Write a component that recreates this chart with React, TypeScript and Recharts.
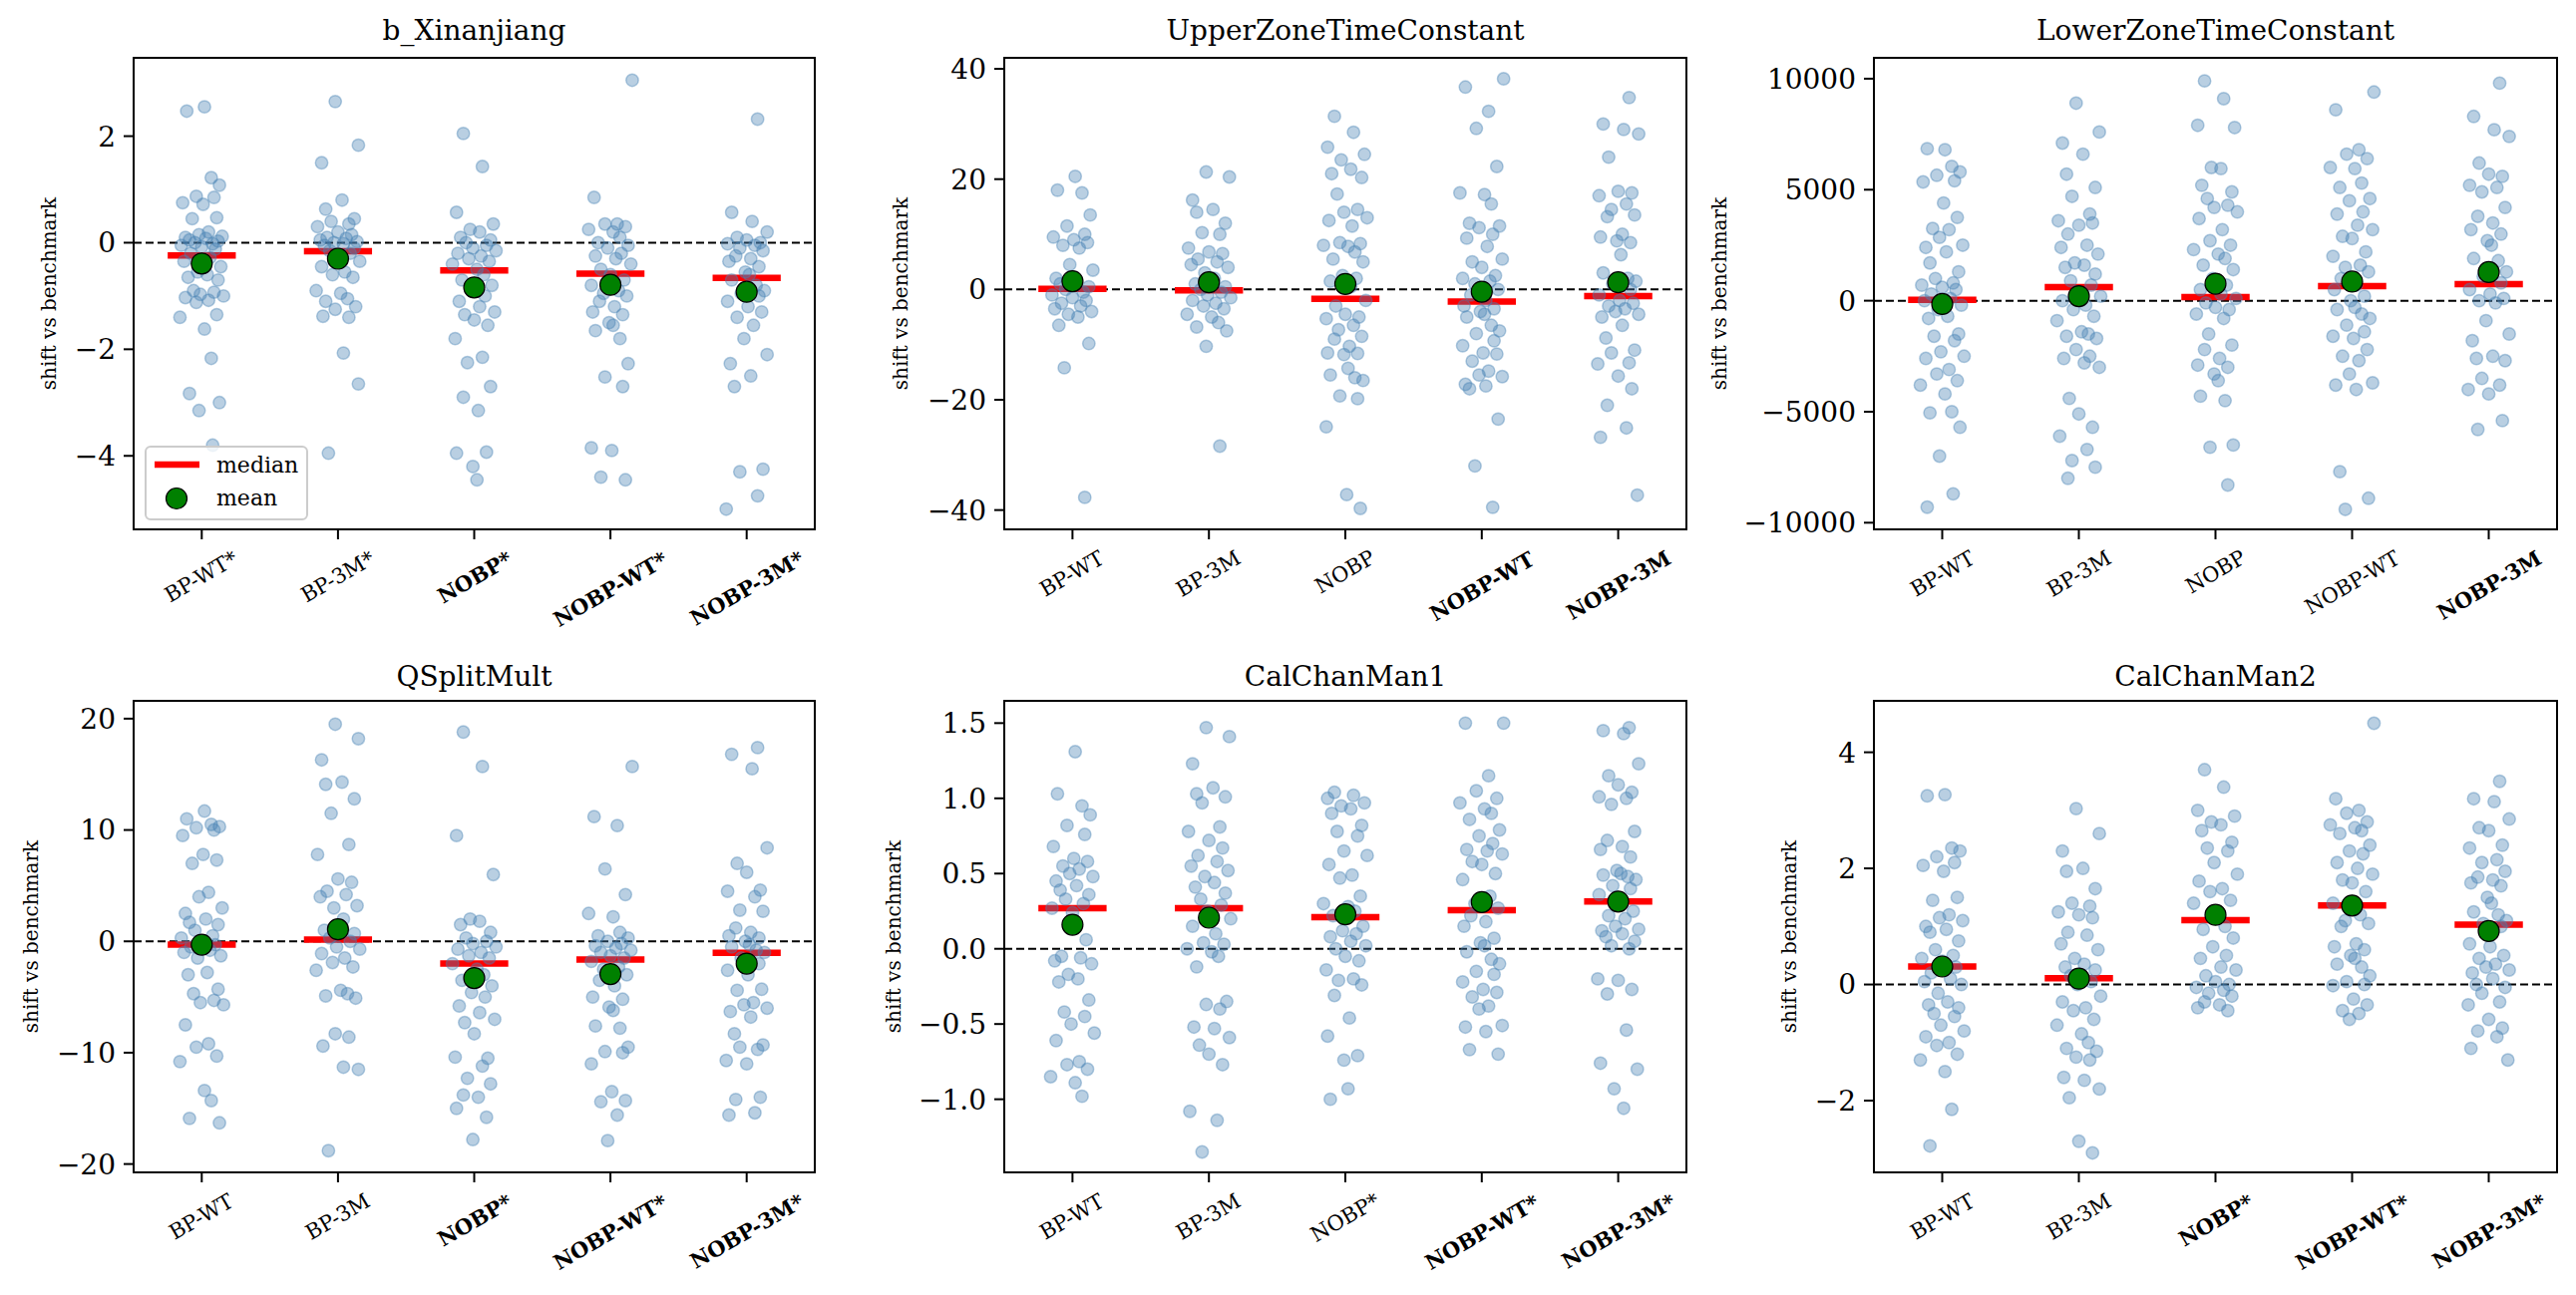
import React from 'react';
import { ScatterChart, Scatter, XAxis, YAxis, ReferenceLine, ReferenceArea } from 'recharts';

const FONT = '"DejaVu Serif", serif';

// ---------- shared horizontal jitter (category units) ----------
const JITTER = [0.02, -0.11, 0.07, 0.13, -0.04, 0.09, -0.14, 0.01, 0.11, -0.07, 0.05, -0.02, 0.15, -0.12, 0.03, -0.09, 0.12, -0.05, 0.08, -0.15, 0.0, 0.1, -0.08, 0.06, -0.13, 0.14, -0.03, 0.04, -0.1, 0.12, -0.06, 0.09, -0.01, 0.16, -0.12, 0.05, -0.04, 0.11, -0.16, 0.02, 0.07, -0.09, 0.13, -0.02, 0.08, -0.11, 0.04, 0.15, -0.07, 0.0, 0.1, -0.14, 0.06, -0.05, 0.12, -0.08, 0.03, -0.13, 0.09, -0.01];

// ---------- b_Xinanjiang ----------
const XIN_LABELS = ['BP-WT*', 'BP-3M*', 'NOBP*', 'NOBP-WT*', 'NOBP-3M*'];
const XIN_BOLD = [false, false, true, true, true];
const XIN_TICKS = [-4, -2, 0, 2];
const XIN_MEDIAN = [-0.24, -0.16, -0.52, -0.58, -0.66];
const XIN_MEAN = [-0.39, -0.3, -0.84, -0.79, -0.92];
const XIN_BPWT = [2.55, 2.47, 1.22, 1.08, 0.87, 0.85, 0.75, 0.72, 0.47, 0.45, 0.2, 0.15, 0.12, 0.1, 0.08, 0.05, 0.03, 0.0, -0.02, -0.05, -0.08, -0.12, -0.2, -0.28, -0.35, -0.45, -0.55, -0.6, -0.65, -0.7, -0.9, -0.93, -0.97, -1.0, -1.03, -1.08, -1.12, -1.35, -1.4, -1.62, -2.17, -2.83, -3.0, -3.15, -3.8];
const XIN_BP3M = [2.65, 1.83, 1.5, 0.8, 0.63, 0.45, 0.4, 0.35, 0.3, 0.2, 0.15, 0.1, 0.08, 0.05, 0.02, 0.0, -0.02, -0.05, -0.1, -0.15, -0.2, -0.3, -0.35, -0.45, -0.55, -0.6, -0.65, -0.9, -0.95, -1.05, -1.1, -1.2, -1.25, -1.4, -1.38, -2.07, -2.65, -3.95];
const XIN_NOBP = [2.05, 1.43, 0.57, 0.35, 0.25, 0.2, 0.1, 0.05, 0.0, -0.05, -0.1, -0.15, -0.2, -0.25, -0.3, -0.35, -0.4, -0.5, -0.6, -0.7, -0.8, -0.9, -1.0, -1.1, -1.2, -1.3, -1.35, -1.45, -1.55, -1.8, -2.15, -2.25, -2.7, -2.9, -3.15, -3.95, -3.93, -4.2, -4.45];
const XIN_NOBPWT = [3.05, 0.85, 0.35, 0.35, 0.3, 0.25, 0.2, 0.1, 0.0, -0.05, -0.1, -0.2, -0.25, -0.3, -0.4, -0.5, -0.6, -0.7, -0.8, -0.9, -0.95, -1.0, -1.1, -1.2, -1.3, -1.35, -1.5, -1.55, -1.65, -1.8, -2.27, -2.52, -2.7, -3.85, -3.9, -4.45, -4.4];
const XIN_NOBP3M = [2.32, 0.57, 0.4, 0.2, 0.1, 0.05, 0.0, -0.02, -0.05, -0.1, -0.15, -0.25, -0.3, -0.35, -0.45, -0.55, -0.6, -0.7, -0.8, -0.9, -0.95, -1.0, -1.1, -1.2, -1.3, -1.4, -1.55, -1.8, -2.1, -2.27, -2.5, -2.7, -4.25, -4.3, -4.75, -5.0];

// ---------- UpperZoneTimeConstant ----------
const UZ_LABELS = ['BP-WT', 'BP-3M', 'NOBP', 'NOBP-WT', 'NOBP-3M'];
const UZ_BOLD = [false, false, false, true, true];
const UZ_TICKS = [-40, -20, 0, 20, 40];
const UZ_MEDIAN = [0.1, -0.15, -1.7, -2.2, -1.2];
const UZ_MEAN = [1.5, 1.3, 1.0, -0.4, 1.3];
const UZ_BPWT = [20.5, 18.0, 17.5, 13.5, 11.5, 10.0, 9.5, 9.0, 8.5, 8.0, 7.5, 4.5, 3.5, 2.0, 1.5, 1.0, 0.5, 0.0, -0.5, -1.0, -1.5, -2.0, -2.5, -3.0, -3.5, -4.0, -4.5, -5.0, -6.5, -9.8, -14.2, -37.7];
const UZ_BP3M = [21.3, 20.4, 16.2, 14.5, 14.0, 12.0, 10.3, 10.0, 7.5, 6.8, 6.5, 5.5, 5.0, 4.5, 4.0, 3.0, 2.0, 1.0, 0.5, 0.0, -0.5, -1.0, -1.5, -2.0, -2.5, -3.0, -3.5, -4.5, -5.0, -6.0, -6.8, -7.5, -10.3, -28.4];
const UZ_NOBP = [31.4, 28.5, 25.8, 24.5, 23.5, 21.8, 21.0, 20.3, 17.3, 14.5, 14.0, 13.0, 12.5, 11.5, 8.5, 8.3, 8.0, 7.8, 6.8, 5.5, 5.0, 2.5, 2.0, 1.5, 0.5, -2.0, -3.0, -4.5, -5.0, -5.3, -6.5, -7.3, -8.5, -9.0, -10.3, -11.5, -11.6, -11.8, -14.3, -15.5, -16.0, -16.5, -19.3, -19.8, -24.9, -37.2, -39.7];
const UZ_NOBPWT = [38.2, 36.7, 32.3, 29.2, 22.3, 17.5, 17.2, 15.5, 12.0, 11.5, 11.2, 10.0, 9.3, 7.8, 5.5, 5.0, 4.0, 2.5, 2.0, 1.5, 1.0, 0.0, -1.0, -2.0, -3.0, -3.5, -4.0, -4.5, -5.0, -6.5, -7.5, -8.0, -9.3, -10.2, -11.5, -11.7, -13.0, -14.8, -15.5, -15.8, -17.2, -17.5, -18.0, -23.5, -32.0, -39.5];
const UZ_NOBP3M = [34.8, 30.0, 29.0, 28.2, 24.0, 17.8, 17.5, 17.0, 15.5, 14.5, 13.5, 13.2, 10.0, 9.5, 8.5, 8.8, 6.3, 3.0, 2.0, 1.5, 1.0, 0.0, -1.0, -2.0, -2.5, -3.0, -3.5, -4.0, -4.5, -5.0, -6.5, -8.8, -11.0, -11.5, -13.3, -13.5, -15.7, -18.0, -21.0, -25.1, -26.8, -37.3];

// ---------- LowerZoneTimeConstant ----------
const LZ_LABELS = ['BP-WT', 'BP-3M', 'NOBP', 'NOBP-WT', 'NOBP-3M'];
const LZ_BOLD = [false, false, false, false, true];
const LZ_TICKS = [-10000, -5000, 0, 5000, 10000];
const LZ_MEDIAN = [40, 617, 168, 654, 748];
const LZ_MEAN = [-150, 206, 766, 860, 1290];
const LZ_BPWT = [6800, 6850, 6050, 5800, 5650, 5400, 5350, 4400, 3750, 3250, 3200, 2850, 2500, 2400, 2200, 1700, 1300, 1000, 800, 700, 600, 500, 300, 100, 0, -200, -400, -700, -800, -1500, -1600, -1800, -2300, -2500, -2600, -3100, -3300, -3600, -3800, -4200, -5000, -5050, -5700, -7000, -8700, -9300];
const LZ_BP3M = [8900, 7600, 7100, 6600, 5700, 5100, 4700, 3900, 3600, 3400, 3500, 3000, 2500, 2400, 2100, 1700, 1600, 1500, 1200, 900, 700, 400, 200, 0, -200, -400, -700, -900, -1400, -1500, -1600, -1700, -2200, -2500, -2600, -2800, -3000, -4400, -5100, -5700, -6100, -6700, -7200, -7500, -8000];
const LZ_NOBP = [9900, 9100, 7900, 7800, 6000, 5950, 5200, 4900, 4600, 4300, 4200, 4000, 3700, 3200, 2700, 2500, 2300, 2100, 1900, 1600, 1400, 1000, 700, 500, 300, 100, -100, -300, -400, -600, -800, -1500, -2000, -2200, -2600, -2900, -3000, -3300, -3600, -4300, -4500, -6500, -6600, -8300];
const LZ_NOBPWT = [9400, 8600, 6800, 6600, 6400, 6000, 5950, 5300, 5100, 4600, 4500, 4000, 3900, 3400, 3200, 2900, 2800, 2200, 2000, 1600, 1500, 1300, 1000, 700, 500, 200, 0, -300, -400, -600, -800, -1100, -1400, -1600, -1700, -2200, -2500, -2700, -3300, -3700, -3800, -4000, -7700, -8900, -9400];
const LZ_NOBP3M = [9800, 8300, 7700, 7400, 6200, 5700, 5600, 5200, 5100, 4900, 4200, 3800, 3500, 3200, 3000, 2700, 2500, 1900, 1800, 1300, 1100, 800, 500, 300, 100, 0, -100, -900, -1500, -1800, -2500, -2600, -2700, -3500, -3800, -4000, -4200, -5400, -5800];

// ---------- QSplitMult ----------
const QS_LABELS = ['BP-WT', 'BP-3M', 'NOBP*', 'NOBP-WT*', 'NOBP-3M*'];
const QS_BOLD = [false, false, true, true, true];
const QS_TICKS = [-20, -10, 0, 10, 20];
const QS_MEDIAN = [-0.3, 0.15, -2.0, -1.64, -1.04];
const QS_MEAN = [-0.3, 1.08, -3.3, -2.94, -2.0];
const QS_BPWT = [11.7, 11.0, 10.5, 10.3, 10.2, 10.0, 9.5, 7.8, 7.3, 7.0, 4.4, 4.0, 3.0, 2.5, 2.0, 1.7, 1.5, 1.0, 0.5, 0.3, 0.0, -0.3, -0.5, -0.8, -1.0, -1.3, -1.5, -2.8, -3.0, -4.3, -4.7, -5.3, -5.5, -5.7, -7.5, -9.2, -9.5, -10.3, -10.8, -13.4, -14.3, -15.9, -16.3];
const QS_BP3M = [19.5, 18.2, 16.3, 14.3, 14.1, 12.8, 11.5, 8.7, 7.8, 5.6, 5.3, 4.5, 4.2, 4.0, 3.2, 3.0, 2.0, 1.0, 0.7, 0.3, 0.0, -0.5, -0.7, -1.1, -1.5, -1.9, -2.3, -2.6, -4.4, -4.7, -4.9, -5.1, -8.3, -8.6, -9.4, -11.3, -11.5, -18.8];
const QS_NOBP = [18.8, 15.7, 9.5, 6.0, 2.0, 1.8, 1.5, 0.8, 0.3, 0.0, -0.2, -0.5, -0.7, -1.0, -1.3, -1.5, -2.0, -2.5, -3.0, -3.5, -4.0, -4.6, -5.0, -5.8, -6.4, -7.0, -7.3, -8.3, -10.5, -10.4, -11.2, -12.3, -12.8, -13.8, -14.0, -15.0, -15.8, -17.8];
const QS_NOBPWT = [15.7, 11.2, 10.4, 6.5, 4.2, 2.5, 2.2, 0.8, 0.5, 0.3, 0.0, -0.2, -0.4, -0.6, -0.8, -1.0, -1.3, -1.5, -1.8, -2.3, -2.5, -3.0, -3.5, -4.0, -5.0, -5.2, -5.9, -6.2, -7.6, -7.8, -9.5, -9.9, -10.0, -11.0, -13.5, -14.3, -14.4, -15.6, -17.9];
const QS_NOBP3M = [17.4, 16.8, 15.5, 8.4, 7.0, 6.2, 4.6, 4.5, 4.0, 2.8, 2.7, 1.2, 0.8, 0.5, 0.3, 0.0, -0.3, -0.5, -0.8, -1.0, -1.5, -2.0, -2.6, -3.0, -4.3, -4.4, -5.5, -5.7, -6.0, -6.3, -6.8, -8.3, -9.3, -9.5, -9.7, -10.7, -11.0, -14.0, -14.2, -15.4, -15.6];

// ---------- CalChanMan1 ----------
const C1_LABELS = ['BP-WT', 'BP-3M', 'NOBP*', 'NOBP-WT*', 'NOBP-3M*'];
const C1_BOLD = [false, false, false, true, true];
const C1_TICKS = [-1.0, -0.5, 0.0, 0.5, 1.0, 1.5];
const C1_MEDIAN = [0.27, 0.27, 0.21, 0.256, 0.314];
const C1_MEAN = [0.16, 0.207, 0.229, 0.311, 0.314];
const C1_BPWT = [1.31, 1.03, 0.95, 0.89, 0.82, 0.76, 0.68, 0.6, 0.58, 0.55, 0.53, 0.5, 0.48, 0.45, 0.42, 0.39, 0.36, 0.33, 0.3, 0.27, 0.24, 0.06, -0.05, -0.06, -0.08, -0.1, -0.17, -0.2, -0.22, -0.34, -0.42, -0.45, -0.5, -0.56, -0.61, -0.75, -0.77, -0.8, -0.85, -0.89, -0.98];
const C1_BP3M = [1.47, 1.41, 1.23, 1.07, 1.03, 1.01, 0.97, 0.81, 0.78, 0.72, 0.67, 0.62, 0.58, 0.55, 0.52, 0.48, 0.44, 0.41, 0.37, 0.33, 0.29, 0.25, 0.2, 0.15, 0.1, 0.04, 0.03, 0.0, -0.02, -0.05, -0.12, -0.35, -0.37, -0.4, -0.52, -0.53, -0.59, -0.64, -0.7, -0.77, -1.08, -1.14, -1.35];
const C1_NOBP = [1.04, 1.02, 1.0, 0.97, 0.95, 0.93, 0.9, 0.82, 0.78, 0.75, 0.65, 0.62, 0.56, 0.49, 0.47, 0.35, 0.3, 0.28, 0.25, 0.22, 0.15, 0.12, 0.1, 0.08, 0.05, 0.02, 0.0, -0.05, -0.08, -0.14, -0.2, -0.21, -0.24, -0.31, -0.46, -0.58, -0.71, -0.74, -0.93, -1.0];
const C1_NOBPWT = [1.5, 1.5, 1.15, 1.05, 1.0, 0.97, 0.93, 0.9, 0.86, 0.79, 0.75, 0.7, 0.66, 0.65, 0.63, 0.58, 0.56, 0.5, 0.46, 0.35, 0.3, 0.27, 0.22, 0.18, 0.15, 0.07, 0.04, 0.02, -0.02, -0.07, -0.1, -0.15, -0.17, -0.22, -0.27, -0.29, -0.32, -0.38, -0.4, -0.51, -0.52, -0.55, -0.67, -0.7];
const C1_NOBP3M = [1.47, 1.45, 1.43, 1.23, 1.15, 1.09, 1.04, 1.01, 1.0, 0.96, 0.78, 0.72, 0.68, 0.66, 0.61, 0.52, 0.5, 0.49, 0.48, 0.46, 0.42, 0.4, 0.36, 0.3, 0.25, 0.22, 0.2, 0.15, 0.13, 0.12, 0.1, 0.08, 0.05, 0.02, 0.0, -0.2, -0.21, -0.27, -0.3, -0.54, -0.76, -0.8, -0.93, -1.06];

// ---------- CalChanMan2 ----------
const C2_LABELS = ['BP-WT', 'BP-3M', 'NOBP*', 'NOBP-WT*', 'NOBP-3M*'];
const C2_BOLD = [false, false, true, true, true];
const C2_TICKS = [-2, 0, 2, 4];
const C2_MEDIAN = [0.31, 0.11, 1.11, 1.36, 1.03];
const C2_MEAN = [0.31, 0.1, 1.2, 1.36, 0.92];
const C2_BPWT = [3.27, 3.25, 2.35, 2.3, 2.2, 2.1, 2.05, 1.95, 1.5, 1.45, 1.2, 1.15, 1.1, 1.0, 0.95, 0.9, 0.75, 0.6, 0.5, 0.45, 0.4, 0.3, 0.2, 0.1, 0.05, 0.0, -0.15, -0.3, -0.35, -0.4, -0.5, -0.55, -0.7, -0.8, -0.9, -1.0, -1.05, -1.2, -1.3, -1.5, -2.15, -2.78];
const C2_BP3M = [3.03, 2.6, 2.3, 2.0, 1.95, 1.65, 1.4, 1.35, 1.25, 1.2, 1.15, 0.9, 0.85, 0.7, 0.6, 0.45, 0.35, 0.3, 0.25, 0.15, 0.05, 0.0, -0.2, -0.3, -0.4, -0.45, -0.6, -0.7, -0.85, -1.0, -1.1, -1.15, -1.25, -1.3, -1.6, -1.65, -1.8, -1.95, -2.7, -2.9];
const C2_NOBP = [3.7, 3.4, 3.0, 2.9, 2.8, 2.75, 2.65, 2.45, 2.35, 2.3, 2.1, 1.9, 1.78, 1.65, 1.6, 1.45, 1.4, 1.25, 1.0, 0.95, 0.8, 0.65, 0.5, 0.45, 0.3, 0.25, 0.15, 0.05, 0.0, -0.05, -0.1, -0.15, -0.2, -0.3, -0.35, -0.4, -0.45];
const C2_NOBPWT = [4.5, 3.2, 3.0, 2.95, 2.8, 2.75, 2.7, 2.65, 2.6, 2.4, 2.3, 2.25, 2.1, 2.0, 1.9, 1.8, 1.75, 1.6, 1.4, 1.2, 1.1, 1.05, 1.0, 0.7, 0.65, 0.6, 0.5, 0.45, 0.35, 0.3, 0.15, 0.05, 0.0, -0.02, -0.25, -0.35, -0.45, -0.5, -0.6];
const C2_NOBP3M = [3.5, 3.2, 3.15, 2.85, 2.7, 2.65, 2.4, 2.35, 2.15, 2.1, 1.95, 1.85, 1.8, 1.75, 1.7, 1.5, 1.4, 1.25, 1.2, 1.1, 1.05, 1.0, 0.7, 0.65, 0.5, 0.45, 0.35, 0.3, 0.25, 0.2, 0.1, 0.0, -0.05, -0.15, -0.3, -0.35, -0.6, -0.75, -0.8, -0.9, -1.1, -1.3];

const PANELS = [
  { title: 'b_Xinanjiang', labels: XIN_LABELS, bold: XIN_BOLD, ticks: XIN_TICKS, domain: [-5.38, 3.47], median: XIN_MEDIAN, mean: XIN_MEAN, groups: [XIN_BPWT, XIN_BP3M, XIN_NOBP, XIN_NOBPWT, XIN_NOBP3M], dec: 0 },
  { title: 'UpperZoneTimeConstant', labels: UZ_LABELS, bold: UZ_BOLD, ticks: UZ_TICKS, domain: [-43.5, 42.0], median: UZ_MEDIAN, mean: UZ_MEAN, groups: [UZ_BPWT, UZ_BP3M, UZ_NOBP, UZ_NOBPWT, UZ_NOBP3M], dec: 0 },
  { title: 'LowerZoneTimeConstant', labels: LZ_LABELS, bold: LZ_BOLD, ticks: LZ_TICKS, domain: [-10300, 10940], median: LZ_MEDIAN, mean: LZ_MEAN, groups: [LZ_BPWT, LZ_BP3M, LZ_NOBP, LZ_NOBPWT, LZ_NOBP3M], dec: 0 },
  { title: 'QSplitMult', labels: QS_LABELS, bold: QS_BOLD, ticks: QS_TICKS, domain: [-20.75, 21.6], median: QS_MEDIAN, mean: QS_MEAN, groups: [QS_BPWT, QS_BP3M, QS_NOBP, QS_NOBPWT, QS_NOBP3M], dec: 0 },
  { title: 'CalChanMan1', labels: C1_LABELS, bold: C1_BOLD, ticks: C1_TICKS, domain: [-1.486, 1.648], median: C1_MEDIAN, mean: C1_MEAN, groups: [C1_BPWT, C1_BP3M, C1_NOBP, C1_NOBPWT, C1_NOBP3M], dec: 1 },
  { title: 'CalChanMan2', labels: C2_LABELS, bold: C2_BOLD, ticks: C2_TICKS, domain: [-3.236, 4.886], median: C2_MEDIAN, mean: C2_MEAN, groups: [C2_BPWT, C2_BP3M, C2_NOBP, C2_NOBPWT, C2_NOBP3M], dec: 0 },
];

// layout: cell boxes and plot areas (page pixels)
const CELLS = [
  { x: 0, y: 0, w: 860, h: 649, pl: 134, pr: 817, pt: 58, pb: 531, yl: 49 },
  { x: 860, y: 0, w: 853, h: 649, pl: 1007, pr: 1691, pt: 58, pb: 531, yl: 903 },
  { x: 1713, y: 0, w: 870, h: 649, pl: 1879, pr: 2564, pt: 58, pb: 531, yl: 1724 },
  { x: 0, y: 649, w: 860, h: 650, pl: 134, pr: 817, pt: 703, pb: 1176, yl: 31 },
  { x: 860, y: 649, w: 853, h: 650, pl: 1007, pr: 1691, pt: 703, pb: 1176, yl: 896 },
  { x: 1713, y: 649, w: 870, h: 650, pl: 1879, pr: 2564, pt: 703, pb: 1176, yl: 1794 },
];

const YAXIS_W = 60;
const XAXIS_H = 30;

function charW(c: string, b: boolean) {
  const n: Record<string, number> = { B: 0.686, P: 0.603, W: 1.03, T: 0.614, N: 0.872, O: 0.787, M: 0.995, '-': 0.338, '*': 0.5, '3': 0.636 };
  const bd: Record<string, number> = { B: 0.76, P: 0.73, W: 1.17, T: 0.72, N: 0.9, O: 0.85, M: 1.05, '-': 0.41, '*': 0.52, '3': 0.7 };
  return (b ? bd[c] : n[c]) ?? 0.65;
}

// rotated category label (HTML, CSS-rotated), its rotated box centred under the tick
function RotLabel({ cx, axisY, label, b }: any) {
  const fs = 21;
  let w = 0;
  for (const c of label) w += charW(c, b);
  w *= fs;
  const h = fs * 0.75;
  const top = axisY + 21;
  const cy = top + (w * 0.5 + h * 0.866) / 2;
  return (
    <div style={{
      position: 'absolute', left: cx, top: cy, transform: 'translate(-50%, -50%) rotate(-30deg)',
      whiteSpace: 'nowrap', fontFamily: FONT, fontSize: fs, lineHeight: 1, fontWeight: b ? 'bold' : 'normal', color: '#000',
    }}>{label}</div>
  );
}

const emptyTick = () => <g />;

const dotShape = (p: any) => (
  <circle cx={p.cx} cy={p.cy} r={6.2} fill="#4682b4" fillOpacity={0.38} stroke="#4682b4" strokeOpacity={0.4} strokeWidth={1.5} />
);
const meanShape = (p: any) => (
  <circle cx={p.cx} cy={p.cy} r={10.5} fill="#008000" stroke="#000" strokeWidth={1.2} />
);

function Panel({ panel, cell }: any) {
  const points = panel.groups.flatMap((vals: number[], g: number) =>
    vals.map((v, i) => ({ x: g + JITTER[(i + g * 11) % JITTER.length], y: v }))
  );
  const means = panel.mean.map((m: number, g: number) => ({ x: g, y: m }));
  const margin = {
    left: cell.pl - cell.x - YAXIS_W,
    right: cell.x + cell.w - cell.pr,
    top: cell.pt - cell.y,
    bottom: cell.y + cell.h - cell.pb - XAXIS_H,
  };
  const fmt = (v: number) => (panel.dec ? v.toFixed(panel.dec) : String(Math.round(v))).replace('-', '\u2212');
  return (
    <div style={{ position: 'absolute', left: cell.x, top: cell.y, width: cell.w, height: cell.h }}>
      <ScatterChart width={cell.w} height={cell.h} margin={margin}>
        <XAxis type="number" dataKey="x" domain={[-0.5, 4.5]} ticks={[0, 1, 2, 3, 4]} allowDataOverflow
          height={XAXIS_H} axisLine={false} tickSize={10} tickLine={{ stroke: '#000', strokeWidth: 2 }}
          tick={emptyTick} interval={0} />
        <YAxis type="number" dataKey="y" domain={panel.domain} ticks={panel.ticks} allowDataOverflow
          width={YAXIS_W} axisLine={false} tickSize={10} tickMargin={8} tickLine={{ stroke: '#000', strokeWidth: 2 }}
          tick={{ fontSize: 28, fontFamily: FONT, fill: '#000' }} tickFormatter={fmt} interval={0} />
        <Scatter data={points} shape={dotShape} isAnimationActive={false} />
        <ReferenceLine y={0} stroke="#000" strokeWidth={2} strokeDasharray="8 4" />
        {panel.median.map((m: number, g: number) => (
          <ReferenceLine key={g} segment={[{ x: g - 0.25, y: m }, { x: g + 0.25, y: m }]} stroke="#ff0000" strokeWidth={6.5} />
        ))}
        <Scatter data={means} shape={meanShape} isAnimationActive={false} />
        <ReferenceArea x1={-0.5} x2={4.5} y1={panel.domain[0]} y2={panel.domain[1]} fill="none" fillOpacity={0}
          stroke="#000" strokeWidth={2} ifOverflow="visible" />
      </ScatterChart>
    </div>
  );
}

export default function App() {
  return (
    <div style={{ position: 'absolute', left: 0, top: 0, width: 2583, height: 1299, background: '#fff', overflow: 'hidden' }}>
      {PANELS.map((p, i) => <Panel key={i} panel={p} cell={CELLS[i]} />)}
      <svg width={2583} height={1299} style={{ position: 'absolute', left: 0, top: 0, pointerEvents: 'none' }}>
        {PANELS.map((p, i) => {
          const c = CELLS[i];
          const cx = (c.pl + c.pr) / 2;
          const my = (c.pt + c.pb) / 2;
          return (
            <g key={i}>
              <text x={cx} y={c.y + (i < 3 ? 40 : 39)} textAnchor="middle" fontFamily={FONT} fontSize={28} fill="#000">{p.title}</text>
              <text transform={`translate(${c.yl}, ${my}) rotate(-90)`} textAnchor="middle" dominantBaseline="central"
                fontFamily={FONT} fontSize={20} fill="#000">shift vs benchmark</text>
            </g>
          );
        })}
        <g>
          <rect x={146} y={448} width={162} height={73} rx={5} fill="#fff" fillOpacity={0.8} stroke="#cccccc" strokeWidth={2} />
          <line x1={155} x2={200} y1={466} y2={466} stroke="#ff0000" strokeWidth={6.5} />
          <text x={217} y={474} fontFamily={FONT} fontSize={22} fill="#000">median</text>
          <circle cx={177} cy={500} r={10.5} fill="#008000" stroke="#000" strokeWidth={1.2} />
          <text x={217} y={507} fontFamily={FONT} fontSize={22} fill="#000">mean</text>
        </g>
      </svg>
      {PANELS.map((p, i) => {
        const c = CELLS[i];
        const step = (c.pr - c.pl) / 5;
        return p.labels.map((lab, g) => (
          <RotLabel key={`${i}-${g}`} cx={c.pl + step * (g + 0.5)} axisY={c.pb} label={lab} b={p.bold[g]} />
        ));
      })}
    </div>
  );
}
